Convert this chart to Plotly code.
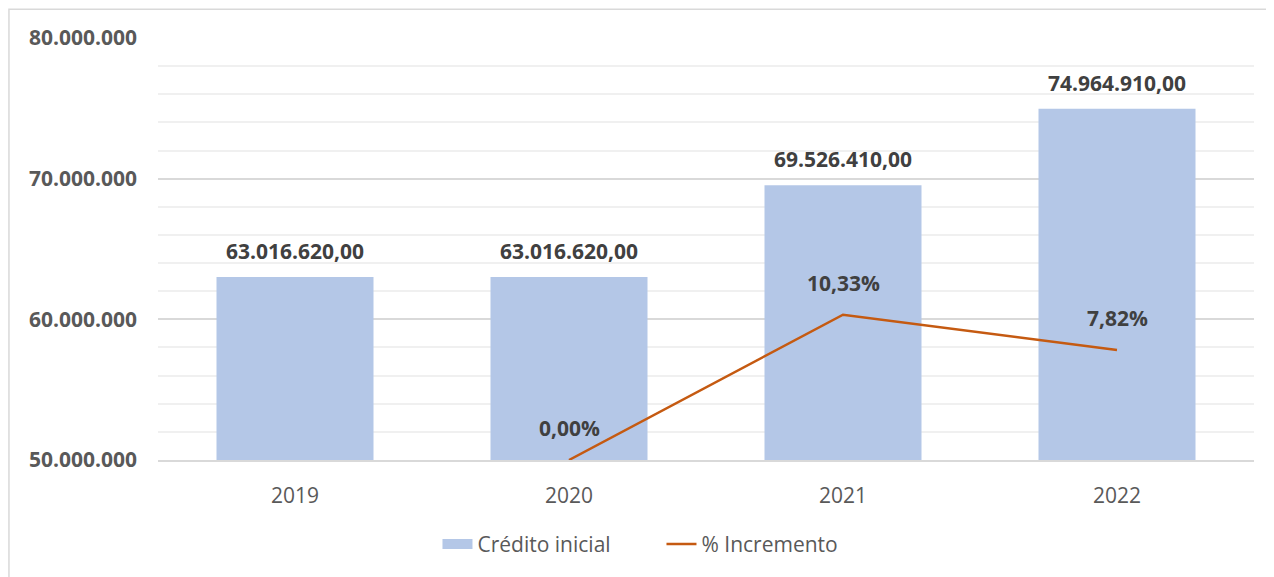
import plotly.graph_objects as go

# datos
anios = ["2019", "2020", "2021", "2022"]
credito_inicial = [63016620.00, 63016620.00, 69526410.00, 74964910.00]
anios_incremento = ["2020", "2021", "2022"]
incremento = [0.0000, 0.1033, 0.0782]


def fmt_euros(v):
    s = f"{v:,.2f}"
    return s.replace(",", "X").replace(".", ",").replace("X", ".")


def fmt_pct(v):
    return f"{v * 100:.2f}%".replace(".", ",")


AZUL = "#B4C7E7"
NARANJA = "#C55A11"
FUENTE = "Open Sans"

fig = go.Figure()

# barras
fig.add_trace(go.Bar(
    x=anios,
    y=credito_inicial,
    marker=dict(color=AZUL, line=dict(width=0)),
    width=0.573,
    name="Crédito inicial",
    showlegend=False,
))

# entrada de leyenda para las barras (símbolo ancho como en Excel)
fig.add_trace(go.Scatter(
    x=[anios[0]],
    y=[None],
    mode="lines",
    line=dict(color=AZUL, width=14),
    name="Crédito inicial",
))

# linea de incremento en eje secundario
fig.add_trace(go.Scatter(
    x=anios_incremento,
    y=incremento,
    mode="lines",
    line=dict(color=NARANJA, width=2.5),
    name="% Incremento",
    yaxis="y2",
    cliponaxis=False,
))

# etiquetas de datos (x como índice de categoría)
for a, v in zip(anios, credito_inicial):
    fig.add_annotation(
        x=anios.index(a), y=v, yref="y", text=fmt_euros(v), showarrow=False,
        yanchor="bottom", yshift=10,
        font=dict(family=FUENTE, size=21, color="#404040", weight="bold"),
    )
for a, v in zip(anios_incremento, incremento):
    fig.add_annotation(
        x=anios.index(a), y=v, yref="y2", text=fmt_pct(v), showarrow=False,
        yanchor="bottom", yshift=16,
        font=dict(family=FUENTE, size=21, color="#404040", weight="bold"),
    )

# borde exterior del gráfico
fig.add_shape(
    type="rect", xref="paper", yref="paper",
    x0=-0.136, x1=1.03, y0=-0.3, y1=1.068,
    line=dict(color="#D9D9D9", width=1.5),
    layer="below",
)

fig.update_layout(
    width=1266,
    height=569,
    margin=dict(l=150, r=20, t=30, b=115),
    plot_bgcolor="white",
    paper_bgcolor="white",
    separators=",.",
    font=dict(family=FUENTE, color="#595959"),
    xaxis=dict(
        type="category",
        categoryorder="array",
        categoryarray=anios,
        range=[-0.5, 3.5],
        showgrid=False,
        showline=True,
        linecolor="#D9D9D9",
        linewidth=1.5,
        ticks="",
        ticklabelstandoff=16,
        tickfont=dict(family=FUENTE, size=21, color="#595959"),
    ),
    yaxis=dict(
        range=[50000000, 80000000],
        dtick=10000000,
        tickformat=",d",
        showgrid=True,
        gridcolor="#D9D9D9",
        gridwidth=1.5,
        zeroline=False,
        ticks="",
        ticklabelstandoff=20,
        tickfont=dict(family=FUENTE, size=21, color="#595959", weight="bold"),
        minor=dict(dtick=2000000, showgrid=True, gridcolor="#F0F0F0", gridwidth=1.5),
    ),
    yaxis2=dict(
        range=[0, 0.30],
        overlaying="y",
        side="right",
        visible=False,
        showgrid=False,
    ),
    legend=dict(
        orientation="h",
        x=0.255, xanchor="left",
        y=-0.2, yanchor="middle",
        entrywidth=179,
        entrywidthmode="pixels",
        font=dict(family=FUENTE, size=21, color="#595959"),
        traceorder="normal",
    ),
)

fig.write_html("out.html")
